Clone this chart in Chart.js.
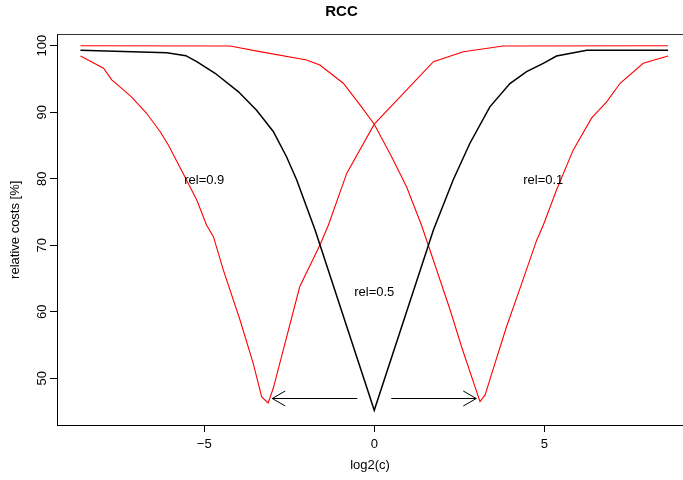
<!DOCTYPE html>
<html><head><meta charset="utf-8">
<script src="https://cdn.jsdelivr.net/npm/chart.js@4/dist/chart.umd.min.js"></script>
<style>html,body{margin:0;padding:0;background:#fff}</style>
</head><body>
<canvas id="c" width="683" height="480"></canvas>
<script>
// ---- data ----
const rel05X = [-8.64,-6.1,-5.54,-5.22,-4.68,-4.0,-3.46,-2.97,-2.58,-2.28,-1.74,0,1.74,2.32,2.81,3.40,3.99,4.48,4.97,5.36,6.25,8.64];
const rel05Y = [99.3,98.95,98.5,97.6,95.85,93.1,90.3,87.1,83.3,79.8,72.3,45.2,72.3,79.8,85.3,90.8,94.3,96.1,97.35,98.45,99.3,99.3];

const rel09X = [-8.64,-7.96,-7.72,-7.48,-7.14,-6.69,-6.30,-6.06,-5.62,-5.22,-4.93,-4.73,-4.44,-3.95,-3.56,-3.31,-3.12,-2.97,-2.19,-1.6,-1.35,-0.81,0,0.85,1.74,2.62,3.79,8.64];
const rel09Y = [98.45,96.6,94.85,93.8,92.3,89.8,87.1,85.1,80.8,76.8,73.0,71.3,66.3,58.8,52.25,47.2,46.3,48.5,63.8,70.0,73.0,80.8,88.2,92.8,97.6,99.1,99.95,100];

const rel01X = [-8.64,-4.24,-3.36,-1.99,-1.6,-0.91,-0.42,0,0.51,0.95,1.39,1.59,2.23,2.57,3.11,3.26,3.55,3.89,4.34,4.78,4.97,5.36,5.85,6.39,6.84,7.23,7.91,8.64];
const rel01Y = [100,99.95,99.1,97.85,97.1,94.35,91.1,88.2,83.3,78.8,73.0,70.0,60.3,54.7,46.5,47.5,52.25,57.75,64.3,70.8,73.0,78.3,84.3,89.1,91.6,94.35,97.35,98.45];

const noteTexts = ["rel=0.9","rel=0.5","rel=0.1"];
const noteX = [-5.0, 0, 4.97];
const noteY = [79.8, 62.9, 79.8];

const arrowFromX = [-0.5, 0.5];
const arrowToX = [-3.0, 3.0];
const arrowY = [47.0, 47.0];

const xTicks = [-5, 0, 5];
const yTicks = [50, 60, 70, 80, 90, 100];

const toPts = (xs, ys) => xs.map((x, i) => ({x, y: ys[i]}));

const FONT = "'Liberation Sans', Arial, Helvetica, sans-serif";

const annot = {
  id: 'annot',
  afterDatasetsDraw(chart) {
    const {ctx, chartArea: a, scales: {x, y}} = chart;
    ctx.save();
    // top border of box
    ctx.strokeStyle = '#333';
    ctx.lineWidth = 1.2;
    ctx.beginPath();
    ctx.moveTo(a.left, a.top);
    ctx.lineTo(a.right, a.top);
    ctx.stroke();
    // text notes
    ctx.fillStyle = '#000';
    ctx.font = '13px ' + FONT;
    ctx.textAlign = 'center';
    ctx.textBaseline = 'middle';
    noteTexts.forEach((t, i) => ctx.fillText(t, x.getPixelForValue(noteX[i]), y.getPixelForValue(noteY[i])));
    // arrows
    ctx.strokeStyle = '#000';
    ctx.lineWidth = 1;
    arrowFromX.forEach((fx, i) => {
      const x0 = x.getPixelForValue(fx), x1 = x.getPixelForValue(arrowToX[i]);
      const yy = Math.round(y.getPixelForValue(arrowY[i])) + 0.5;
      ctx.beginPath();
      ctx.moveTo(x0, yy); ctx.lineTo(x1, yy);
      const dir = Math.sign(x0 - x1);
      const len = 15, ang = Math.PI / 6;
      ctx.moveTo(x1 + dir * len * Math.cos(ang), yy - len * Math.sin(ang));
      ctx.lineTo(x1, yy);
      ctx.lineTo(x1 + dir * len * Math.cos(ang), yy + len * Math.sin(ang));
      ctx.stroke();
    });
    ctx.restore();
  }
};

new Chart(document.getElementById('c'), {
  type: 'line',
  data: {
    datasets: [
      {label: 'rel=0.5', data: toPts(rel05X, rel05Y), borderColor: '#000', borderWidth: 1.5},
      {label: 'rel=0.9', data: toPts(rel09X, rel09Y), borderColor: '#ff0000', borderWidth: 1.1},
      {label: 'rel=0.1', data: toPts(rel01X, rel01Y), borderColor: '#ff0000', borderWidth: 1.1}
    ]
  },
  options: {
    responsive: false,
    animation: false,
    devicePixelRatio: 1,
    layout: {padding: {left: 0, right: 0, top: 0, bottom: 0}},
    elements: {point: {radius: 0}, line: {tension: 0, fill: false}},
    plugins: {
      legend: {display: false},
      tooltip: {enabled: false},
      title: {display: true, text: 'RCC', color: '#000',
        font: {family: FONT, size: 15, weight: 'bold'},
        padding: {top: 3, bottom: 13.5}}
    },
    scales: {
      x: {
        type: 'linear', min: -9.33, max: 9.08,
        afterBuildTicks: s => { s.ticks = xTicks.map(v => ({value: v})); },
        afterFit: s => { s.height = 55; },
        ticks: {color: '#000', font: {family: FONT, size: 13}, padding: 4.5, includeBounds: false,
          callback: v => (v < 0 ? '\u2212' + Math.abs(v) : String(v))},
        grid: {display: true, drawOnChartArea: false, drawTicks: true, tickLength: 7, color: '#000', tickWidth: 1},
        border: {display: true, color: '#000', width: 1},
        title: {display: true, text: 'log2(c)', color: '#000', font: {family: FONT, size: 13}, padding: {top: 0, bottom: 7}}
      },
      y: {
        type: 'linear', min: 42.98, max: 101.68,
        afterBuildTicks: s => { s.ticks = yTicks.map(v => ({value: v})); },
        afterFit: s => { s.width = 57; },
        ticks: {color: '#000', font: {family: FONT, size: 13}, padding: -3, minRotation: 90, maxRotation: 90, crossAlign: 'center', includeBounds: false},
        grid: {display: true, drawOnChartArea: false, drawTicks: true, tickLength: 7, color: '#000', tickWidth: 1},
        border: {display: true, color: '#000', width: 1},
        title: {display: true, text: 'relative costs [%]', color: '#000', font: {family: FONT, size: 13}, padding: {top: 8, bottom: 0}}
      }
    }
  },
  plugins: [annot]
});
</script>
</body></html>
